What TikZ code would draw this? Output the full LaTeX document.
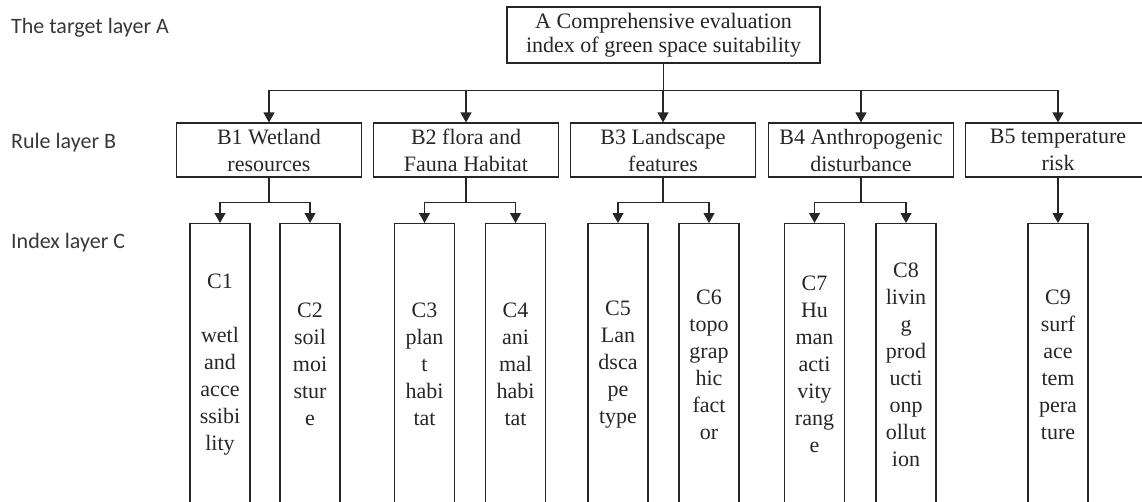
\documentclass[tikz,border=0pt]{standalone}
\usepackage{fontspec}
\setmainfont{Liberation Serif}
\newfontfamily\labelfont{Carlito}
\usetikzlibrary{arrows.meta}
\definecolor{ink}{HTML}{262626}
\definecolor{lab}{HTML}{383838}
\begin{document}
\begin{tikzpicture}[x=1pt,y=-1pt,
  box/.style={draw=ink, line width=1.1pt, text=ink, inner sep=0pt, align=center,
    font=\fontsize{22}{27}\selectfont},
  abox/.style={box, minimum width=313, minimum height=56, font=\fontsize{22}{24}\selectfont},
  bbox/.style={box, minimum width=185, minimum height=54},
  cbox/.style={box, anchor=north, minimum width=60, minimum height=282},
  layerlabel/.style={anchor=west, text=lab, inner sep=0pt,
    font=\labelfont\fontsize{22}{26}\selectfont},
  conn/.style={draw=ink, line width=1.1pt},
  arr/.style={conn, -{Triangle[length=10pt,width=11pt]}}]
\useasboundingbox (0,0) rectangle (1142,501);
\clip (0,0) rectangle (1142,501);
% layer labels
\node[layerlabel] (LA) at (11,28) {The target layer A};
\node[layerlabel] (LB) at (11,143) {Rule layer B};
\node[layerlabel] (LC) at (11,243) {Index layer C};
% A
\node[abox] (A) at (663.5,35) {A Comprehensive evaluation\\index of green space suitability};
% B
\node[bbox] (B1) at (269,150) {B1 Wetland\\resources};
\node[bbox] (B2) at (466,150) {B2 flora and\\Fauna Habitat};
\node[bbox] (B3) at (663,150) {B3 Landscape\\features};
\node[bbox] (B4) at (861,150) {B4 Anthropogenic\\disturbance};
\node[bbox] (B5) at (1058,150) {B5 temperature\\risk};
% C
\node[cbox] (C1) at (220,223) {C1\\[27pt]wetl\\and\\acce\\ssibi\\lity};
\node[cbox] (C2) at (310,223) {C2\\soil\\moi\\stur\\e};
\node[cbox] (C3) at (424.5,223) {C3\\plan\\t\\habi\\tat};
\node[cbox] (C4) at (515.5,223) {C4\\ani\\mal\\habi\\tat};
\node[cbox] (C5) at (618,223) {C5\\Lan\\dsca\\pe\\type};
\node[cbox] (C6) at (709,223) {C6\\topo\\grap\\hic\\fact\\or};
\node[cbox] (C7) at (814.5,223) {C7\\Hu\\man\\acti\\vity\\rang\\e};
\node[cbox] (C8) at (906,223) {C8\\livin\\g\\prod\\ucti\\onp\\ollut\\ion};
\node[cbox] (C9) at (1058,223) {C9\\surf\\ace\\tem\\pera\\ture};
% A -> B
\foreach \b in {B1,B2,B3,B4,B5}
  \draw[arr] (A.south) -- ++(0,27) -| (\b.north);
% B -> C
\draw[arr] (B1.south) -- ++(0,25) -| (C1.north);
\draw[arr] (B1.south) -- ++(0,25) -| (C2.north);
\draw[arr] (B2.south) -- ++(0,25) -| (C3.north);
\draw[arr] (B2.south) -- ++(0,25) -| (C4.north);
\draw[arr] (B3.south) -- ++(0,25) -| (C5.north);
\draw[arr] (B3.south) -- ++(0,25) -| (C6.north);
\draw[arr] (B4.south) -- ++(0,25) -| (C7.north);
\draw[arr] (B4.south) -- ++(0,25) -| (C8.north);
\draw[arr] (B5.south) -- (C9.north);
\end{tikzpicture}
\end{document}
